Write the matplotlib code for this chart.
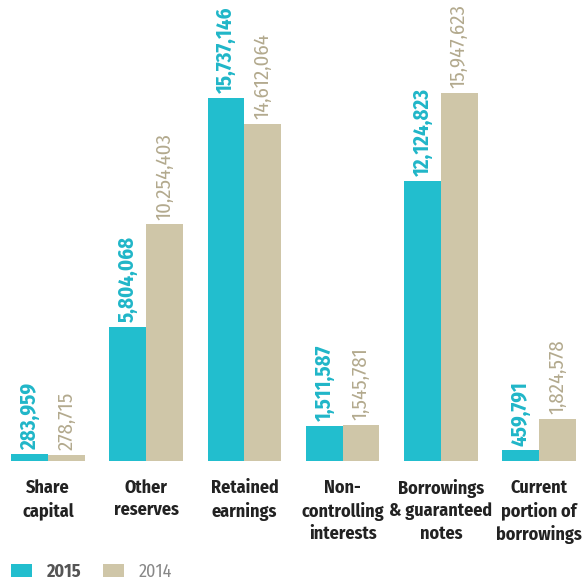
import matplotlib
matplotlib.use("Agg")
import matplotlib.pyplot as plt
import numpy as np

categories = ["Share\ncapital", "Other\nreserves", "Retained\nearnings",
              "Non-\ncontrolling\ninterests", "Borrowings\n& guaranteed\nnotes",
              "Current\nportion of\nborrowings"]
values_2015 = [283959, 5804068, 15737146, 1511587, 12124823, 459791]
values_2014 = [278715, 10254403, 14612064, 1545781, 15947623, 1824578]
series_names = ["2015", "2014"]

teal = "#22BECE"
beige = "#CFC6A8"
teal_txt = "#20B6C8"
beige_txt = "#B3AA8E"

plt.rcParams['font.family'] = ['Fira Sans Condensed', 'DejaVu Sans']

fig = plt.figure(figsize=(5.84, 5.80), dpi=100)
ax = fig.add_axes([0, 0.2052, 1, 0.7948])

x = np.arange(len(categories))
w = 0.375
b1 = ax.bar(x - w/2, values_2015, w, color=teal, label=series_names[0])
b2 = ax.bar(x + w/2, values_2014, w, color=beige, label=series_names[1])

for xi, v in zip(x - w/2, values_2015):
    ax.annotate(f"{v:,}", (xi, v), xytext=(0, 3.5), textcoords="offset points",
                rotation=90, ha="center", va="bottom", fontsize=15,
                fontweight="bold", color=teal_txt)
for xi, v in zip(x + w/2, values_2014):
    ax.annotate(f"{v:,}", (xi, v), xytext=(0, 3.5), textcoords="offset points",
                rotation=90, ha="center", va="bottom", fontsize=15,
                color=beige_txt)

ax.set_xlim(-0.489, 5.458)
ax.set_ylim(0, 19.98e6)
ax.set_xticks(x)
ax.set_xticklabels(categories, fontsize=13, fontweight="bold", color="#222222",
                   linespacing=1.32)
ax.tick_params(axis="x", length=0, pad=13)
ax.set_yticks([])
for s in ax.spines.values():
    s.set_visible(False)

leg = fig.legend(handles=[b1, b2], labels=series_names, loc="center left",
                 bbox_to_anchor=(11/584, 1 - 571.5/580), ncol=2, frameon=False,
                 fontsize=13, handlelength=1.16, handleheight=0.72,
                 columnspacing=1.25, handletextpad=0.78,
                 borderpad=0, borderaxespad=0)
t = leg.get_texts()
t[0].set_fontweight("bold"); t[0].set_color("#555555")
t[1].set_color("#888888")

fig.savefig("out.png", dpi=100)
